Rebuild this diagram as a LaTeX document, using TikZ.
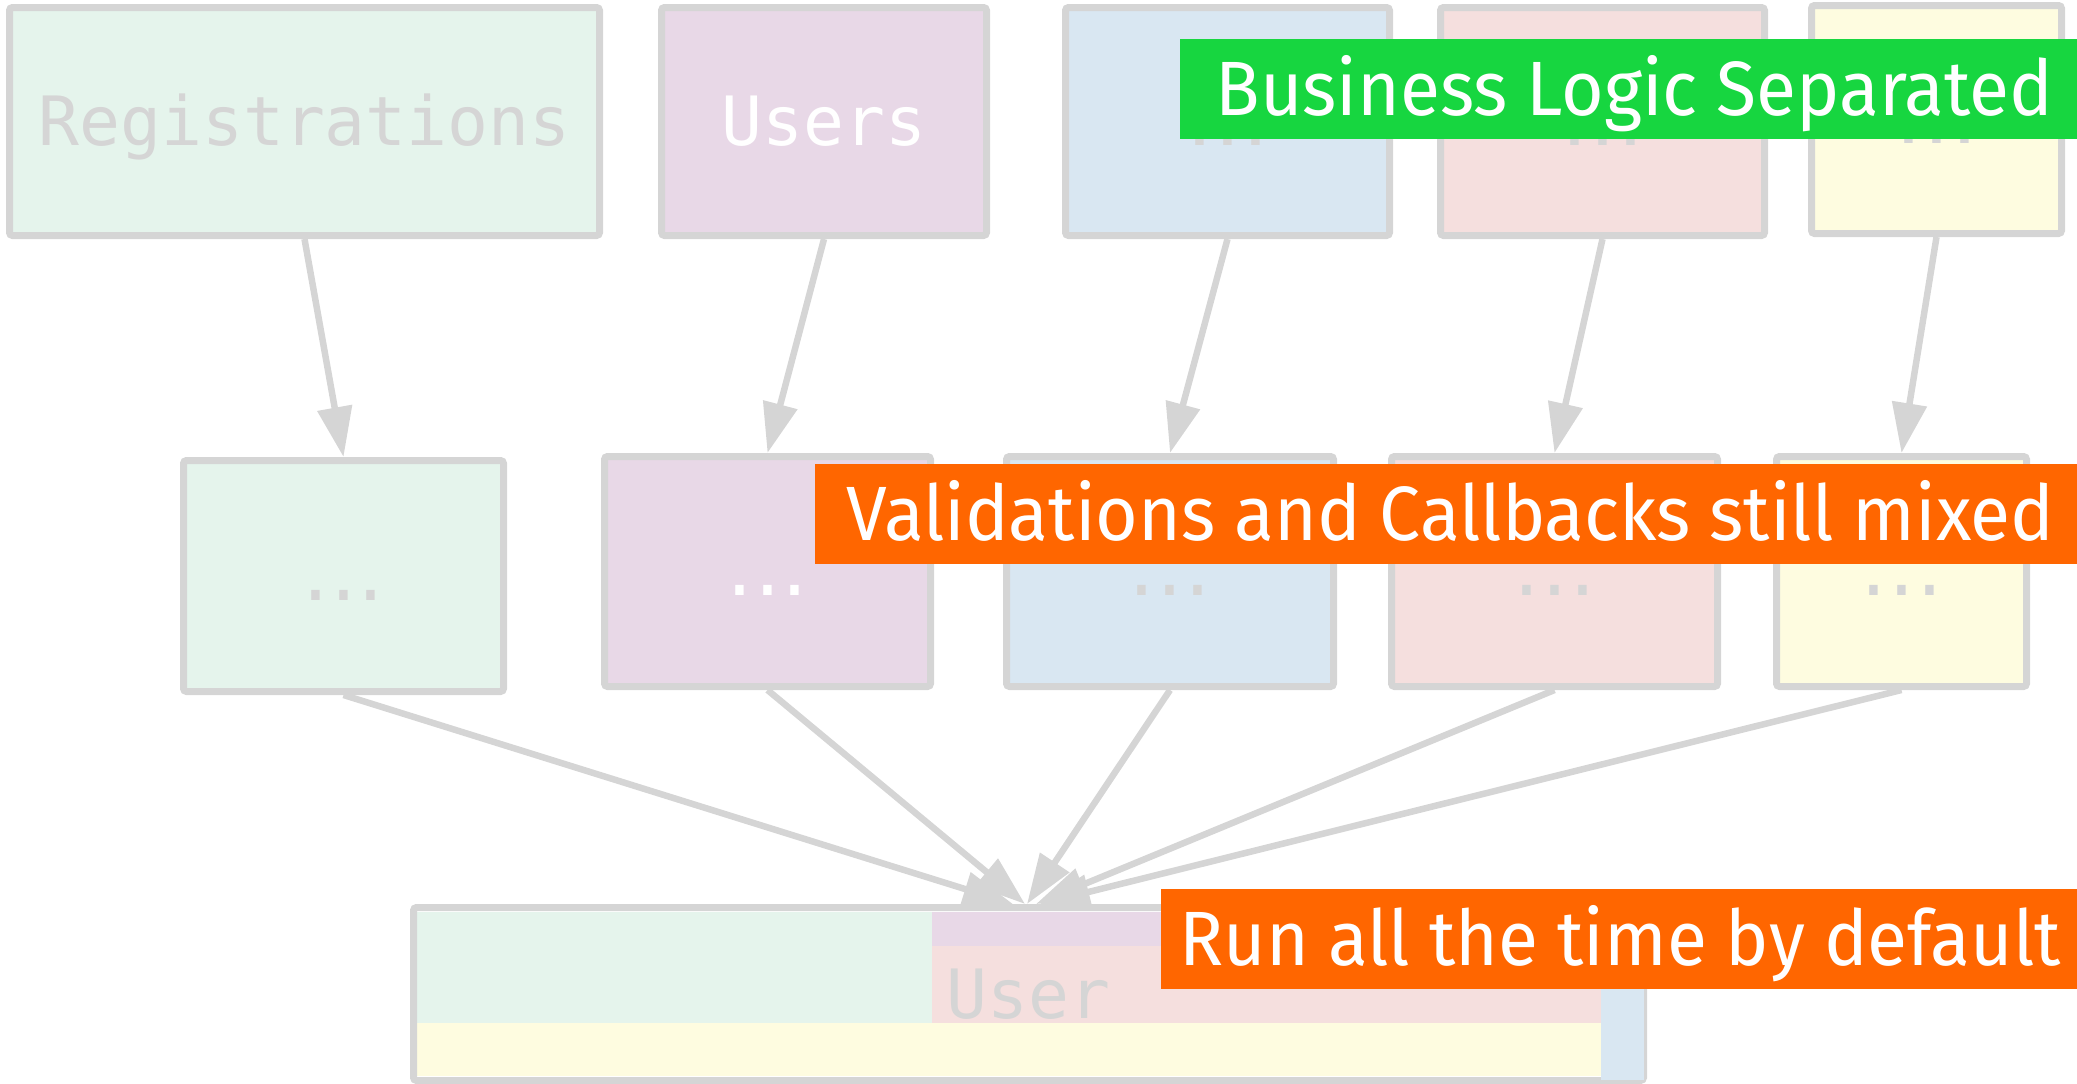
\documentclass[tikz,border=0pt]{standalone}
\usepackage{fontspec}
\setmainfont{Fira Sans}[FakeStretch=0.95]
\newfontfamily\codefont{DejaVu Sans Mono}
\usetikzlibrary{arrows.meta}
\definecolor{linegray}{HTML}{D5D5D5}
\definecolor{regfill}{HTML}{E5F4EC}
\definecolor{userfill}{HTML}{E8D8E7}
\definecolor{bluefill}{HTML}{D9E7F2}
\definecolor{pinkfill}{HTML}{F5DFDE}
\definecolor{yellowfill}{HTML}{FEFCE0}
\definecolor{sepgreen}{HTML}{17D640}
\definecolor{mixorange}{HTML}{FF6600}
\newcommand\moredots{.\kern-13pt.\kern-13pt.}
\newcommand\tightspace{\spaceskip=19pt\relax}
\tikzset{box/.style={draw=linegray,line width=7pt,rounded corners=3pt,minimum height=228pt,inner sep=0pt,
    text=linegray,text height=48pt,text depth=0pt,font=\codefont\fontsize{68}{80}\selectfont},
  edge/.style={-{Triangle[length=50pt,width=34pt]},draw=linegray,line width=6.5pt},
  note/.style={anchor=west,minimum height=100pt,inner ysep=0pt,text=white,text height=53pt,text depth=0pt,
    align=left,font=\fontsize{77}{90}\selectfont}}

\begin{document}
\begin{tikzpicture}[x=1pt,y=-1pt]
\useasboundingbox (0,0) rectangle (2077,1084);
% the merged model at the bottom
\fill[regfill] (417,912) rectangle (932,1023);
\fill[userfill] (932,912) rectangle (1601,946);
\fill[pinkfill] (932,946) rectangle (1601,1023);
\fill[yellowfill] (417,1023) rectangle (1601,1076);
\node[box,minimum width=1230pt,minimum height=173pt] (user) at (1028.5,994) {User};
\fill[bluefill] (1601,912) rectangle (1644,1080);
% business logic
\node[box,fill=regfill,minimum width=590pt] (reg) at (304.5,121.5) {Registrations};
\node[box,fill=userfill,text=white,minimum width=325pt] (users) at (824,121.5) {Users};
\node[box,fill=bluefill,minimum width=324pt] (top3) at (1227.5,121.5) {\moredots};
\node[box,fill=pinkfill,minimum width=324pt] (top4) at (1602.5,121.5) {\moredots};
\node[box,fill=yellowfill,minimum width=250pt] (top5) at (1936.5,119.5) {\moredots};
% validations and callbacks
\node[box,fill=regfill,minimum width=320pt,minimum height=231pt] (mid1) at (343.5,576) {\moredots};
\node[box,fill=userfill,text=white,minimum width=326pt,minimum height=230pt] (mid2) at (767.5,571.5) {\moredots};
\node[box,fill=bluefill,minimum width=327pt,minimum height=230pt] (mid3) at (1170,571.5) {\moredots};
\node[box,fill=pinkfill,minimum width=326pt,minimum height=230pt] (mid4) at (1554.5,571.5) {\moredots};
\node[box,fill=yellowfill,minimum width=250pt,minimum height=230pt] (mid5) at (1901.5,571.5) {\moredots};
\foreach \a/\b in {reg/mid1,users/mid2,top3/mid3,top4/mid4,top5/mid5}{\draw[edge] (\a.south)--(\b.north);}
\foreach \m/\s in {mid1/-15.5,mid2/-3.5,mid3/-1.5,mid4/7.5,mid5/11.5}{\draw[edge] (\m.south)--([xshift=\s pt]user.north);}
% notes
\node[note,fill=sepgreen,inner xsep=35.5pt,text width=906pt] (sepnote) at (1180,89) {\tightspace Business Logic Separated};
\node[note,fill=mixorange,inner xsep=31pt,text width=1280pt] (mixnote) at (815,513.5) {\tightspace Validations and Callbacks still mixed};
\node[note,fill=mixorange,inner xsep=18.5pt,text width=959pt] (runnote) at (1161,938.5) {\tightspace Run all the time by default};
\end{tikzpicture}
\end{document}
